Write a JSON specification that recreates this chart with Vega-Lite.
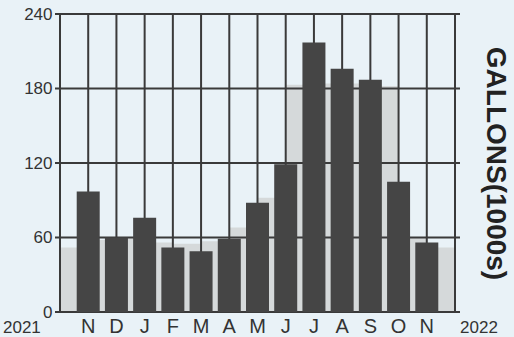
{
  "$schema": "https://vega.github.io/schema/vega-lite/v6.json",
  "width": 405,
  "height": 298,
  "autosize": {"type": "none"},
  "padding": {"left": 55, "top": 14, "right": 54, "bottom": 25},
  "background": "#e9f2f7",
  "config": {"view": {"stroke": null}, "font": "Liberation Sans"},
  "datasets": {
    "usage": [
      {"pos": 1, "month": "N", "gallons": 97},
      {"pos": 2, "month": "D", "gallons": 60},
      {"pos": 3, "month": "J", "gallons": 76},
      {"pos": 4, "month": "F", "gallons": 52},
      {"pos": 5, "month": "M", "gallons": 49},
      {"pos": 6, "month": "A", "gallons": 59},
      {"pos": 7, "month": "M", "gallons": 88},
      {"pos": 8, "month": "J", "gallons": 119},
      {"pos": 9, "month": "J", "gallons": 217},
      {"pos": 10, "month": "A", "gallons": 196},
      {"pos": 11, "month": "S", "gallons": 187},
      {"pos": 12, "month": "O", "gallons": 105},
      {"pos": 13, "month": "N", "gallons": 56}
    ],
    "prior": [
      {"pos": 0, "gallons": 52},
      {"pos": 1, "gallons": 58},
      {"pos": 2, "gallons": 60},
      {"pos": 3, "gallons": 56},
      {"pos": 4, "gallons": 55},
      {"pos": 5, "gallons": 57},
      {"pos": 6, "gallons": 68},
      {"pos": 7, "gallons": 92},
      {"pos": 8, "gallons": 183},
      {"pos": 9, "gallons": 184},
      {"pos": 10, "gallons": 184},
      {"pos": 11, "gallons": 182},
      {"pos": 12, "gallons": 60},
      {"pos": 13, "gallons": 52},
      {"pos": 14, "gallons": 52}
    ],
    "gridY": [{"v": 0}, {"v": 60}, {"v": 120}, {"v": 180}, {"v": 240}],
    "gridX": [
      {"v": 0}, {"v": 1}, {"v": 2}, {"v": 3}, {"v": 4}, {"v": 5}, {"v": 6}, {"v": 7},
      {"v": 8}, {"v": 9}, {"v": 10}, {"v": 11}, {"v": 12}, {"v": 13}, {"v": 14}
    ],
    "years": [{"label": "2021", "pos": -1.35}, {"label": "2022", "pos": 14.85}]
  },
  "layer": [
    {
      "data": {"name": "prior"},
      "mark": {"type": "area", "interpolate": "step-after", "color": "#d5d9da", "opacity": 1},
      "encoding": {
        "x": {"field": "pos", "type": "quantitative", "scale": {"domain": [0, 14], "nice": false, "zero": false}, "axis": null},
        "y": {
          "field": "gallons", "type": "quantitative",
          "scale": {"domain": [0, 240], "nice": false},
          "axis": {"values": [0, 60, 120, 180, 240], "labelFontSize": 17, "labelColor": "#333333", "ticks": false, "domain": false, "grid": false, "title": null, "labelPadding": 3}
        }
      }
    },
    {
      "data": {"name": "gridY"},
      "mark": {"type": "rule", "color": "#3a3a3a", "strokeWidth": 2},
      "encoding": {"y": {"field": "v", "type": "quantitative", "axis": null}}
    },
    {
      "data": {"name": "gridX"},
      "mark": {"type": "rule", "color": "#3a3a3a", "strokeWidth": 2},
      "encoding": {"x": {"field": "v", "type": "quantitative", "axis": null}}
    },
    {
      "data": {"name": "usage"},
      "mark": {"type": "bar", "width": 23, "color": "#454545"},
      "encoding": {
        "x": {"field": "pos", "type": "quantitative", "axis": null},
        "y": {
          "field": "gallons", "type": "quantitative",
          "axis": {"orient": "right", "labels": false, "ticks": false, "domain": false, "grid": false, "title": "GALLONS(1000s)", "titleFontSize": 28, "titleFontWeight": "bold", "titleColor": "#222222", "titleAngle": 90, "titlePadding": 20}
        }
      }
    },
    {
      "data": {"name": "usage"},
      "mark": {"type": "text", "baseline": "alphabetic", "dy": 21, "fontSize": 20, "color": "#333333"},
      "encoding": {
        "x": {"field": "pos", "type": "quantitative", "axis": null},
        "y": {"datum": 0, "type": "quantitative", "axis": null},
        "text": {"field": "month"}
      }
    },
    {
      "data": {"name": "years"},
      "mark": {"type": "text", "baseline": "alphabetic", "dy": 21, "fontSize": 17, "color": "#333333"},
      "encoding": {
        "x": {"field": "pos", "type": "quantitative", "axis": null},
        "y": {"datum": 0, "type": "quantitative", "axis": null},
        "text": {"field": "label"}
      }
    }
  ],
  "resolve": {"axis": {"y": "independent"}}
}
